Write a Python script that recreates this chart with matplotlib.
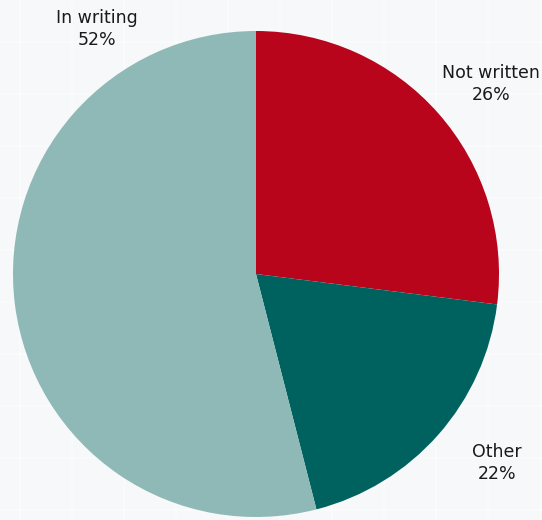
import matplotlib.pyplot as plt
import numpy as np

# slice sizes as drawn (angles), labels as printed
categories = ["Not written", "Other", "In writing"]
shares = [27.0, 19.0, 54.0]
printed_pct = ["26%", "22%", "52%"]
colors = ["#b8051b", "#00625f", "#8fb9b6"]

W, H = 542, 520
fig = plt.figure(figsize=(W / 100, H / 100), dpi=100)
fig.patch.set_facecolor("#f6f8f9")
ax = fig.add_axes([0, 0, 1, 1])
ax.set_facecolor("#f6f8f9")

# faint tile grid in the background
for gx in np.arange(20, W, 52):
    ax.axvline(gx, color="white", lw=1.2, alpha=0.5, zorder=0)
for gy in np.arange(10, H, 52):
    ax.axhline(gy, color="white", lw=1.2, alpha=0.5, zorder=0)

ax.pie(shares, colors=colors, startangle=90, counterclock=False,
       center=(256, H - 274), radius=243,
       wedgeprops=dict(linewidth=0))

ax.set_xlim(0, W)
ax.set_ylim(0, H)
ax.set_aspect("equal")
ax.axis("off")

label_pos = [(491, 84), (497, 463), (97, 29)]
for name, pct, (x, y) in zip(categories, printed_pct, label_pos):
    ax.text(x, H - y, name + "\n" + pct, ha="center", va="center",
            fontsize=12.5, color="#1a1a1a", linespacing=1.3,
            family="DejaVu Sans")

fig.savefig("out.png", dpi=100, facecolor=fig.get_facecolor())
